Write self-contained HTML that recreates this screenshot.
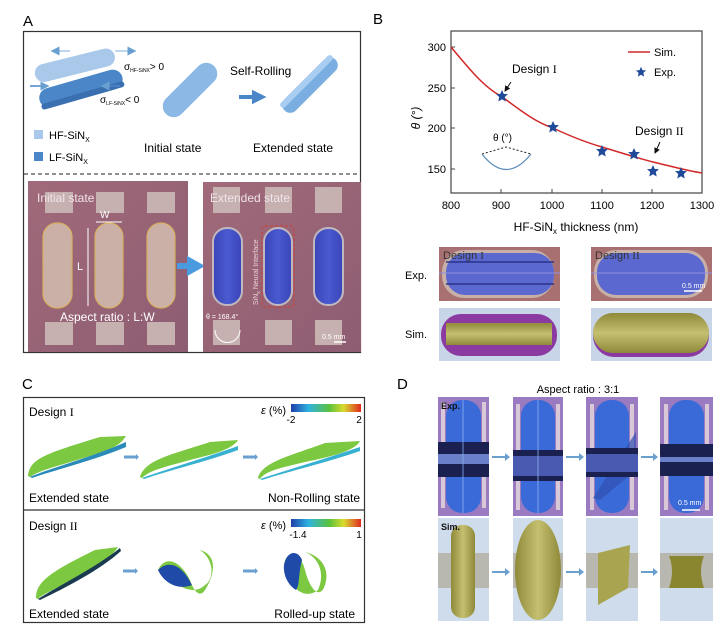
<!DOCTYPE html>
<html><head><meta charset="utf-8"><style>
html,body{margin:0;padding:0;background:#fff}
svg{display:block;font-family:"Liberation Sans",Arial,sans-serif}
</style></head><body>
<svg width="723" height="630" viewBox="0 0 723 630" xmlns="http://www.w3.org/2000/svg">
<defs>
<linearGradient id="pur" x1="0" y1="0" x2="1" y2="1"><stop offset="0" stop-color="#a06a7a"/><stop offset="1" stop-color="#8e5d72"/></linearGradient>
<linearGradient id="blu" x1="0" y1="0" x2="1" y2="0"><stop offset="0" stop-color="#3a44b8"/><stop offset=".5" stop-color="#4a5ad0"/><stop offset="1" stop-color="#3a44b8"/></linearGradient>
<linearGradient id="cb1" x1="0" y1="0" x2="1" y2="0"><stop offset="0" stop-color="#1f3fa8"/><stop offset=".25" stop-color="#2fb3e0"/><stop offset=".55" stop-color="#5cc23a"/><stop offset=".75" stop-color="#d8dc30"/><stop offset="1" stop-color="#e02a20"/></linearGradient>
<linearGradient id="olv" x1="0" y1="0" x2="1" y2="0"><stop offset="0" stop-color="#8e8a3a"/><stop offset=".5" stop-color="#c4c070"/><stop offset="1" stop-color="#8e8a3a"/></linearGradient>
<linearGradient id="olvh" x1="0" y1="0" x2="0" y2="1"><stop offset="0" stop-color="#8e8a3a"/><stop offset=".5" stop-color="#c4c070"/><stop offset="1" stop-color="#8e8a3a"/></linearGradient>
<marker id="ah" markerWidth="6" markerHeight="6" refX="5" refY="3" orient="auto"><path d="M0,0 L6,3 L0,6z" fill="#6aa0d0"/></marker>
<marker id="ak" markerWidth="6" markerHeight="6" refX="5" refY="3" orient="auto"><path d="M0,0 L6,3 L0,6z" fill="#111"/></marker>
</defs>

<!-- ===== Panel A ===== -->
<text x="23" y="26" font-size="15">A</text>
<rect x="23.5" y="31.5" width="337" height="321" fill="none" stroke="#333" stroke-width="1.2"/>
<line x1="24" y1="174" x2="360" y2="174" stroke="#222" stroke-dasharray="4,3"/>
<g transform="translate(72,66) rotate(-14)"><rect x="-38" y="-9" width="82" height="18" rx="9" fill="#a9c8ea"/></g>
<g transform="translate(80,89) rotate(-16)"><rect x="-42" y="-10" width="86" height="20" rx="10" fill="#4a86c8"/><rect x="-42" y="4" width="86" height="6" rx="3" fill="#3a70b0"/></g>
<line x1="70" y1="51" x2="52" y2="51" stroke="#a9c8ea" stroke-width="1.5" marker-end="url(#ah)"/>
<line x1="115" y1="51" x2="135" y2="51" stroke="#a9c8ea" stroke-width="1.5" marker-end="url(#ah)"/>
<line x1="30" y1="86" x2="48" y2="86" stroke="#4a86c8" stroke-width="1.5" marker-end="url(#ah)"/>
<line x1="120" y1="86" x2="102" y2="86" stroke="#4a86c8" stroke-width="1.5" marker-end="url(#ah)"/>
<text x="124" y="70" font-size="10">σ<tspan font-size="5" dy="2">HF-SiNX</tspan><tspan dy="-2">&gt; 0</tspan></text>
<text x="100" y="103" font-size="10">σ<tspan font-size="5" dy="2">LF-SiNX</tspan><tspan dy="-2">&lt; 0</tspan></text>
<g transform="translate(190,90) rotate(-45)"><rect x="-34" y="-11" width="68" height="22" rx="11" fill="#8cb8e6"/></g>
<text x="230" y="75" font-size="12">Self-Rolling</text>
<path d="M239 97 H254 V93 L262 97 L254 101 V97" fill="#4a86c8" stroke="#4a86c8" stroke-width="4"/>
<g transform="translate(310,85) rotate(-45)"><rect x="-36" y="-8" width="72" height="16" rx="8" fill="#7aaee0"/><rect x="-36" y="-8" width="72" height="6" rx="3" fill="#a8cdf0"/></g>
<rect x="34" y="130" width="9" height="9" fill="#a9c8ea"/>
<text x="49" y="139" font-size="11">HF-SiN<tspan font-size="7" dy="3">X</tspan></text>
<rect x="34" y="152" width="9" height="9" fill="#4a86c8"/>
<text x="49" y="161" font-size="11">LF-SiN<tspan font-size="7" dy="3">X</tspan></text>
<text x="144" y="152" font-size="12">Initial state</text>
<text x="253" y="152" font-size="12">Extended state</text>
<rect x="28" y="181" width="160" height="171" fill="url(#pur)"/>
<g fill="#c7b0b0"><rect x="45" y="192" width="28" height="21"/><rect x="96" y="192" width="28" height="21"/><rect x="147" y="192" width="28" height="21"/>
<rect x="45" y="322" width="28" height="23"/><rect x="96" y="322" width="28" height="23"/><rect x="147" y="322" width="28" height="23"/></g>
<g fill="#cbb0a8" stroke="#d8b060" stroke-width="1.2"><rect x="43" y="223" width="29" height="85" rx="14"/><rect x="95" y="223" width="28" height="85" rx="14"/><rect x="147" y="223" width="28" height="85" rx="14"/></g>
<text x="37" y="202" font-size="12" fill="#f0e4ea">Initial state</text>
<text x="100" y="218" font-size="10" fill="#fff">W</text>
<line x1="96" y1="222" x2="122" y2="222" stroke="#fff"/>
<line x1="88" y1="228" x2="88" y2="306" stroke="#fff"/>
<text x="77" y="270" font-size="11" fill="#fff">L</text>
<text x="60" y="321" font-size="12" fill="#fff">Aspect ratio : L:W</text>
<path d="M177 266 H190 V261 L199 266 L190 271 V266" fill="#4a9ae0" stroke="#4a9ae0" stroke-width="6"/>
<rect x="203" y="182" width="158" height="170" fill="url(#pur)"/>
<g fill="#c7b0b0"><rect x="213" y="187" width="27" height="26"/><rect x="265" y="187" width="27" height="26"/><rect x="315" y="187" width="27" height="26"/>
<rect x="213" y="320" width="27" height="25"/><rect x="265" y="320" width="27" height="25"/><rect x="315" y="320" width="27" height="25"/></g>
<g fill="url(#blu)" stroke="#c0b8c0" stroke-width="2"><rect x="213" y="228" width="29" height="77" rx="14"/><rect x="264" y="228" width="28" height="77" rx="14"/><rect x="314" y="228" width="29" height="77" rx="14"/></g>
<rect x="262" y="226" width="32" height="81" rx="3" fill="none" stroke="#d04030" stroke-dasharray="3,2"/>
<text x="210" y="202" font-size="12" fill="#f0e4ea">Extended state</text>
<text transform="translate(258,305) rotate(-90)" font-size="7" fill="#f0d0d8">SiN<tspan font-size="5" dy="2">x</tspan><tspan dy="-2"> Neural Interface</tspan></text>
<text x="206" y="319" font-size="7" fill="#fff">θ = 168.4°</text>
<path d="M215 330 A12 12 0 0 0 240 330" fill="none" stroke="#fff"/>
<text x="322" y="339" font-size="7" fill="#fff">0.5 mm</text>
<line x1="334" y1="342" x2="346" y2="342" stroke="#fff" stroke-width="1.5"/>

<!-- ===== Panel B ===== -->
<text x="373" y="24" font-size="15">B</text>
<rect x="451" y="31" width="251" height="162" fill="none" stroke="#444" stroke-width="1.2"/>
<g font-size="11" text-anchor="end"><text x="446" y="51">300</text><text x="446" y="92">250</text><text x="446" y="132">200</text><text x="446" y="173">150</text></g>
<g stroke="#444"><line x1="451" y1="47" x2="455" y2="47"/><line x1="451" y1="88" x2="455" y2="88"/><line x1="451" y1="128" x2="455" y2="128"/><line x1="451" y1="169" x2="455" y2="169"/>
<line x1="501" y1="193" x2="501" y2="189"/><line x1="552" y1="193" x2="552" y2="189"/><line x1="602" y1="193" x2="602" y2="189"/><line x1="652" y1="193" x2="652" y2="189"/></g>
<g font-size="11" text-anchor="middle"><text x="451" y="209">800</text><text x="501" y="209">900</text><text x="552" y="209">1000</text><text x="602" y="209">1100</text><text x="652" y="209">1200</text><text x="702" y="209">1300</text></g>
<text x="576" y="231" font-size="12" text-anchor="middle">HF-SiN<tspan font-size="8" dy="3">x</tspan><tspan dy="-3"> thickness (nm)</tspan></text>
<text transform="translate(420,118) rotate(-90)" font-size="12" font-style="italic" text-anchor="middle">θ (°)</text>
<path d="M451 47 C470 70 485 88 501 96 C520 110 535 122 553 128 C572 137 588 143 602 147 C622 153 637 158 653 162 C670 166 688 171 702 173" fill="none" stroke="#d02828" stroke-width="1.5"/>
<g fill="#1f4a9a">
<path id="st" d="M0,-6 L1.8,-2 L6,-1.9 L2.8,1 L3.7,5.5 L0,3.2 L-3.7,5.5 L-2.8,1 L-6,-1.9 L-1.8,-2Z" transform="translate(502,96)"/>
<use href="#st" transform="translate(51,31)"/><use href="#st" transform="translate(100,55)"/><use href="#st" transform="translate(132,58)"/><use href="#st" transform="translate(151,75)"/><use href="#st" transform="translate(179,77)"/>
<path d="M0,-6 L1.8,-2 L6,-1.9 L2.8,1 L3.7,5.5 L0,3.2 L-3.7,5.5 L-2.8,1 L-6,-1.9 L-1.8,-2Z" transform="translate(641,72) scale(.85)"/>
</g>
<line x1="628" y1="52" x2="650" y2="52" stroke="#d02828" stroke-width="1.5"/>
<text x="654" y="56" font-size="11">Sim.</text>
<text x="654" y="76" font-size="11">Exp.</text>
<text x="512" y="73" font-size="12">Design <tspan font-family="Liberation Serif">I</tspan></text>
<line x1="511" y1="82" x2="505" y2="91" stroke="#111" marker-end="url(#ak)"/>
<text x="635" y="135" font-size="12">Design <tspan font-family="Liberation Serif">II</tspan></text>
<line x1="660" y1="142" x2="655" y2="153" stroke="#111" marker-end="url(#ak)"/>
<text x="493" y="141" font-size="10">θ (°)</text>
<path d="M482 154 L506 147 L531 154" fill="none" stroke="#222" stroke-dasharray="2,2"/>
<path d="M482 154 Q506 185 531 154" fill="none" stroke="#5a8ab8" stroke-width="1.2"/>
<text x="405" y="279" font-size="11">Exp.</text>
<text x="405" y="338" font-size="11">Sim.</text>
<rect x="439" y="247" width="121" height="54" fill="#a87070"/>
<rect x="442" y="250" width="112" height="48" rx="22" fill="#c8b0a8"/>
<rect x="446" y="253" width="108" height="42" rx="19" fill="#5a68d0"/>
<line x1="446" y1="262" x2="554" y2="262" stroke="#2a3288" stroke-width="1.5"/><line x1="446" y1="284" x2="554" y2="284" stroke="#2a3288" stroke-width="1.5"/>
<line x1="439" y1="273" x2="560" y2="273" stroke="#9090e0"/>
<text x="443" y="259" font-size="11" fill="#333">Design <tspan font-family="Liberation Serif">I</tspan></text>
<rect x="591" y="247" width="121" height="54" fill="#a87070"/>
<rect x="594" y="250" width="114" height="48" rx="22" fill="#c8b0a8"/>
<rect x="597" y="253" width="108" height="42" rx="19" fill="#5a68d0"/>
<line x1="591" y1="273" x2="712" y2="273" stroke="#9090e0"/>
<text x="595" y="259" font-size="11" fill="#333">Design <tspan font-family="Liberation Serif">II</tspan></text>
<text x="682" y="288" font-size="7" fill="#fff">0.5 mm</text><line x1="684" y1="291" x2="702" y2="291" stroke="#fff" stroke-width="1.5"/>
<rect x="439" y="308" width="121" height="53" fill="#c8d4e8"/>
<rect x="441" y="314" width="116" height="42" rx="20" fill="#8a3aa0"/>
<rect x="446" y="323" width="106" height="22" fill="url(#olvh)"/>
<rect x="591" y="308" width="121" height="53" fill="#c8d4e8"/>
<rect x="593" y="313" width="116" height="44" rx="21" fill="#8a3aa0"/>
<rect x="593" y="313" width="116" height="40" rx="20" fill="url(#olvh)"/>

<!-- ===== Panel C ===== -->
<text x="22" y="389" font-size="15">C</text>
<rect x="23.5" y="397.5" width="341" height="225" fill="none" stroke="#333" stroke-width="1.2"/>
<line x1="24" y1="510" x2="364" y2="510" stroke="#333" stroke-width="1.2"/>
<text x="29" y="416" font-size="12">Design <tspan font-family="Liberation Serif">I</tspan></text>
<text x="286" y="414" font-size="11" text-anchor="end"><tspan font-style="italic">ε</tspan> (%)</text>
<rect x="291" y="404" width="70" height="8" fill="url(#cb1)"/>
<text x="291" y="423" font-size="10" text-anchor="middle">-2</text><text x="359" y="423" font-size="10" text-anchor="middle">2</text>
<path d="M28 476 C30 460 40 455 100 437 L126 436 C120 445 115 448 90 456 C55 467 40 470 30 477Z" fill="#7cc840"/>
<path d="M30 477 C50 468 90 458 126 442 L126 447 C95 460 55 470 32 478Z" fill="#2a8ab8"/>
<path d="M140 477 C145 460 170 455 210 442 L238 440 C232 450 210 455 190 460 C165 467 150 470 142 478Z" fill="#7cc840"/>
<path d="M142 478 C170 468 205 458 238 446 L238 450 C205 462 170 470 144 479Z" fill="#38b0d0"/>
<path d="M258 478 C262 462 290 456 325 443 L360 441 C355 451 330 457 305 462 C280 468 265 471 260 479Z" fill="#7cc840"/>
<path d="M260 479 C290 469 325 459 360 447 L360 451 C325 463 290 471 262 480Z" fill="#38b0d0"/>
<line x1="124" y1="457" x2="136" y2="457" stroke="#6aa0d0" stroke-width="3"/><path d="M136 454 L139 457 L136 460Z" fill="#6aa0d0"/>
<line x1="243" y1="457" x2="255" y2="457" stroke="#6aa0d0" stroke-width="3"/><path d="M255 454 L258 457 L255 460Z" fill="#6aa0d0"/>
<text x="29" y="502" font-size="12">Extended state</text>
<text x="360" y="502" font-size="12" text-anchor="end">Non-Rolling state</text>
<text x="29" y="530" font-size="12">Design <tspan font-family="Liberation Serif">II</tspan></text>
<text x="286" y="529" font-size="11" text-anchor="end"><tspan font-style="italic">ε</tspan> (%)</text>
<rect x="291" y="519" width="70" height="8" fill="url(#cb1)"/>
<text x="298" y="538" font-size="10" text-anchor="middle">-1.4</text><text x="359" y="538" font-size="10" text-anchor="middle">1</text>
<path d="M36 598 C36 582 50 572 95 550 L118 547 C112 557 100 563 80 575 C55 590 42 594 38 599Z" fill="#7cc840"/>
<path d="M38 599 C60 585 95 568 120 548 L121 551 C100 570 65 588 40 600Z" fill="#1a3a50"/>
<line x1="123" y1="571" x2="135" y2="571" stroke="#6aa0d0" stroke-width="3"/><path d="M135 568 L138 571 L135 574Z" fill="#6aa0d0"/>
<path d="M158 570 C165 555 180 560 190 580 C194 592 200 598 205 590 C215 575 218 555 200 550 C215 560 214 580 205 585 C195 595 180 590 158 570Z" fill="#7cc840"/>
<path d="M158 570 C168 560 180 565 188 578 L192 585 C180 590 165 585 158 570Z" fill="#1f4aa8"/>
<line x1="243" y1="571" x2="255" y2="571" stroke="#6aa0d0" stroke-width="3"/><path d="M255 568 L258 571 L255 574Z" fill="#6aa0d0"/>
<path d="M284 565 C286 550 300 550 305 570 C310 590 320 600 325 585 C330 570 322 556 305 552 C320 558 325 575 318 590 C305 600 290 590 284 565Z" fill="#7cc840"/>
<path d="M284 565 C287 550 298 550 302 560 C298 575 300 585 296 590 C288 585 283 575 284 565Z" fill="#1f4aa8"/>
<text x="29" y="618" font-size="12">Extended state</text>
<text x="355" y="618" font-size="12" text-anchor="end">Rolled-up state</text>

<!-- ===== Panel D ===== -->
<text x="397" y="389" font-size="15">D</text>
<text x="578" y="393" font-size="11" text-anchor="middle">Aspect ratio : 3:1</text>
<g>
<rect x="438" y="397" width="51" height="119" fill="#9a7ac0"/>
<rect x="441" y="402" width="4" height="106" fill="#d8c8d8"/><rect x="482" y="402" width="4" height="106" fill="#d8c8d8"/>
<rect x="446" y="400" width="35" height="113" rx="16" fill="#3a6ad8"/>
<rect x="438" y="442" width="51" height="12" fill="#1a2050"/><rect x="438" y="454" width="51" height="10" fill="#6a80c8"/><rect x="438" y="464" width="51" height="13" fill="#1a2050"/>
<line x1="463" y1="400" x2="463" y2="513" stroke="#8ab0f0" stroke-width=".8"/>
<text x="441" y="409" font-size="9" font-weight="bold" fill="#111">Exp.</text>
</g>
<g>
<rect x="513" y="397" width="50" height="119" fill="#9a7ac0"/>
<rect x="516" y="404" width="4" height="106" fill="#d8c8d8"/><rect x="556" y="404" width="4" height="106" fill="#d8c8d8"/>
<rect x="521" y="400" width="34" height="113" rx="16" fill="#3a6ad8"/>
<rect x="513" y="450" width="50" height="6" fill="#1a2050"/><rect x="513" y="456" width="50" height="20" fill="#4a5ab0"/><rect x="513" y="476" width="50" height="5" fill="#1a2050"/>
<line x1="538" y1="400" x2="538" y2="513" stroke="#8ab0f0" stroke-width=".8"/>
</g>
<g>
<rect x="586" y="397" width="52" height="119" fill="#9a7ac0"/>
<rect x="590" y="404" width="4" height="106" fill="#d8c8d8"/><rect x="630" y="404" width="4" height="106" fill="#d8c8d8"/>
<rect x="595" y="400" width="34" height="113" rx="16" fill="#3a6ad8"/>
<path d="M593 498 L636 432 L636 470 L600 500Z" fill="#3050b0" opacity=".7"/>
<rect x="586" y="448" width="52" height="6" fill="#1a2050"/><rect x="586" y="454" width="52" height="18" fill="#4a5ab0"/><rect x="586" y="472" width="52" height="5" fill="#1a2050"/>
</g>
<g>
<rect x="660" y="397" width="53" height="119" fill="#9a7ac0"/>
<rect x="664" y="404" width="4" height="106" fill="#d8c8d8"/><rect x="705" y="404" width="4" height="106" fill="#d8c8d8"/>
<rect x="669" y="400" width="35" height="113" rx="16" fill="#3a6ad8"/>
<rect x="660" y="444" width="53" height="13" fill="#1a2050"/><rect x="660" y="457" width="53" height="5" fill="#6a80c8"/><rect x="660" y="462" width="53" height="14" fill="#1a2050"/>
<text x="678" y="505" font-size="7" fill="#fff">0.5 mm</text><line x1="682" y1="510" x2="700" y2="510" stroke="#fff" stroke-width="1.5"/>
</g>
<g>
<rect x="438" y="518" width="51" height="103" fill="#cfdcec"/><rect x="438" y="553" width="51" height="35" fill="#b8b8b0"/>
<rect x="451" y="525" width="24" height="93" rx="11" fill="url(#olv)"/>
<text x="441" y="530" font-size="9" font-weight="bold" fill="#111">Sim.</text>
</g>
<g>
<rect x="513" y="518" width="50" height="103" fill="#cfdcec"/><rect x="513" y="553" width="50" height="35" fill="#b8b8b0"/>
<ellipse cx="538" cy="570" rx="23" ry="50" fill="url(#olv)"/>
</g>
<g>
<rect x="586" y="518" width="52" height="103" fill="#cfdcec"/><rect x="586" y="553" width="52" height="35" fill="#b8b8b0"/>
<path d="M598 553 L630 545 L628 588 L598 605Z" fill="#a8a450"/>
</g>
<g>
<rect x="660" y="518" width="53" height="103" fill="#cfdcec"/><rect x="660" y="553" width="53" height="35" fill="#b8b8b0"/>
<path d="M669 556 H704 Q698 571 704 588 H669 Q675 571 669 556Z" fill="#8a8630"/>
</g>
<g stroke="#6aa0d0" stroke-width="2">
<line x1="492" y1="457" x2="505" y2="457"/><line x1="566" y1="457" x2="579" y2="457"/><line x1="641" y1="457" x2="653" y2="457"/>
<line x1="492" y1="572" x2="505" y2="572"/><line x1="566" y1="572" x2="579" y2="572"/><line x1="641" y1="572" x2="653" y2="572"/>
</g>
<g fill="#6aa0d0">
<path d="M505 453 L510 457 L505 461Z"/><path d="M579 453 L584 457 L579 461Z"/><path d="M653 453 L658 457 L653 461Z"/>
<path d="M505 568 L510 572 L505 576Z"/><path d="M579 568 L584 572 L579 576Z"/><path d="M653 568 L658 572 L653 576Z"/>
</g>
</svg>
</body></html>
